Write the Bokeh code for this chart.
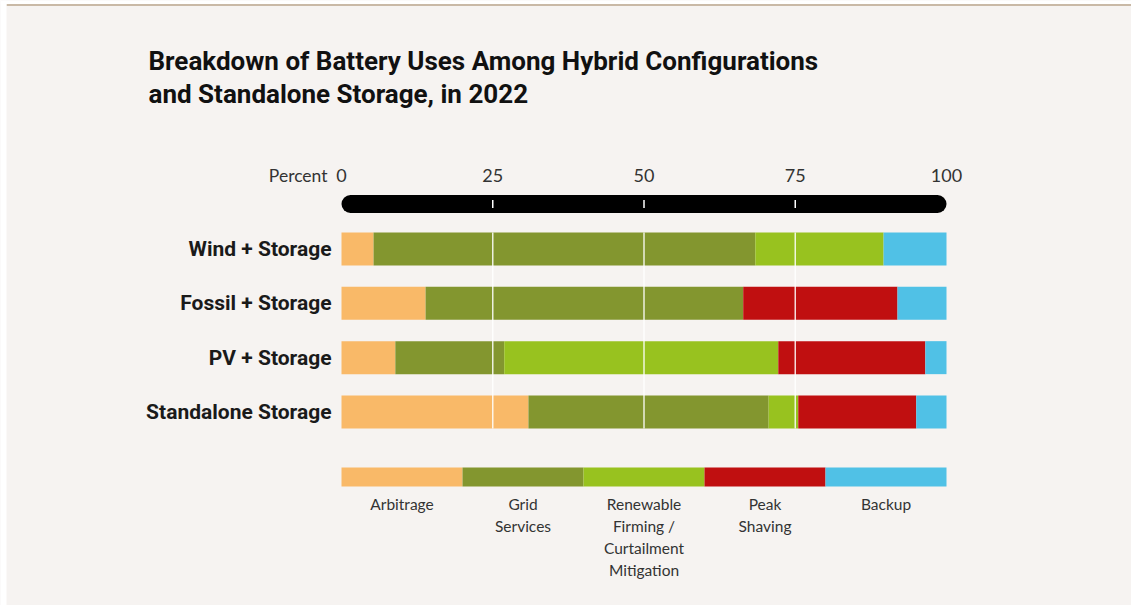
from bokeh.plotting import figure
from bokeh.models import Range1d, ColumnDataSource
from bokeh.core.properties import value
from bokeh.embed import file_html
from bokeh.resources import INLINE

# ---------------- data ----------------
categories = ["Wind + Storage", "Fossil + Storage", "PV + Storage", "Standalone Storage"]
uses = ["Arbitrage", "Grid Services", "Renewable Firming / Curtailment Mitigation", "Peak Shaving", "Backup"]
arbitrage = [5.3, 13.9, 8.9, 30.9]
grid_services = [63.1, 52.5, 18.0, 39.7]
renewable_firming = [21.2, 0.0, 45.3, 4.9]
peak_shaving = [0.0, 25.5, 24.3, 19.5]
backup = [10.4, 8.1, 3.5, 5.0]
legend_labels = [["Arbitrage"], ["Grid", "Services"], ["Renewable", "Firming /", "Curtailment", "Mitigation"],
                 ["Peak", "Shaving"], ["Backup"]]
tick_values = [0, 25, 50, 75, 100]
tick_labels = ["0", "25", "50", "75", "100"]
colors = ["#f9b968", "#83962f", "#98c21f", "#c00f10", "#50c1e6"]
title_lines = ["Breakdown of Battery Uses Among Hybrid Configurations",
               "and Standalone Storage, in 2022"]

# ---------------- layout ----------------
W, H = 1131, 605
OFF = 0                       # page offset of the figure
S = 6.05                      # px per percent
X0 = -(341 - OFF) / S         # data x at left edge of figure
X1 = X0 + W / S
BG = "#f6f3f1"


def px(page_x):
    return X0 + (page_x - OFF) / S


def py(page_y):
    return page_y - OFF


p = figure(width=W, height=H, output_backend="svg", toolbar_location=None,
           x_range=Range1d(X0, X1), y_range=Range1d(H, 0),
           min_border=0, min_border_left=0, min_border_right=0,
           min_border_top=0, min_border_bottom=0)
p.axis.visible = False
p.grid.visible = False
p.outline_line_color = None
p.background_fill_color = BG
p.border_fill_color = BG

# top rule
p.segment(x0=[px(6)], x1=[X1], y0=[py(4.5)], y1=[py(4.5)], line_color="#c9b9a6", line_width=2)
p.quad(left=[X0], right=[px(6)], top=[0], bottom=[H], color="white", line_color=None)
p.quad(left=[X0], right=[X1], top=[0], bottom=[py(3.5)], color="white", line_color=None)

# title
for i, t in enumerate(title_lines):
    p.text(x=[px(148)], y=[py(60.5) + i * 33], text=[t], text_font=value("Roboto"),
           text_font_style="bold", text_font_size="26px", text_color="#111111",
           text_align="left", text_baseline="alphabetic")

# axis bar with rounded ends
cap = 9 / S
p.line(x=[0 + cap, 100 - cap], y=[py(203.5)] * 2, line_color="black", line_width=18, line_cap="round")
inner = [v for v in tick_values if 0 < v < 100]
p.segment(x0=inner, x1=inner, y0=[py(199.5)] * len(inner), y1=[py(207.5)] * len(inner),
          line_color="white", line_width=1.5)
p.text(x=tick_values, y=[py(175)] * len(tick_values), text=tick_labels, text_font=value("Lato"),
       text_font_size="18px", text_color="#333333", text_align="center", text_baseline="middle")
p.text(x=[px(327)], y=[py(175)], text=["Percent"], text_font=value("Lato"),
       text_font_size="17.5px", text_color="#333333", text_align="right", text_baseline="middle")

# stacked bars
row_y = [py(248.5) + i * 54.33 for i in range(len(categories))]
series = [arbitrage, grid_services, renewable_firming, peak_shaving, backup]
src = ColumnDataSource(dict(y=row_y, **{f"s{i}": s for i, s in enumerate(series)}))
p.hbar_stack([f"s{i}" for i in range(len(series))], y="y", height=33, color=colors,
             source=src, line_color=None)

# white gridlines over bars
p.segment(x0=inner, x1=inner, y0=[py(232)] * len(inner), y1=[py(428)] * len(inner),
          line_color="white", line_width=1.5, line_alpha=0.85)

# category labels
p.text(x=[px(331)] * len(categories), y=row_y, text=categories, text_font=value("Roboto"),
       text_font_style="bold", text_font_size="21px", text_color="#1a1a1a",
       text_align="right", text_baseline="middle")

# legend bar
n = len(uses)
lefts = [i * 100 / n for i in range(n)]
rights = [(i + 1) * 100 / n for i in range(n)]
p.hbar(y=[py(476.5)] * n, left=lefts, right=rights, height=19, color=colors, line_color=None)
for i, lines in enumerate(legend_labels):
    cx = (lefts[i] + rights[i]) / 2
    for j, ln in enumerate(lines):
        p.text(x=[cx], y=[py(503) + j * 22.3], text=[ln], text_font=value("Lato"),
               text_font_size="15.5px", text_color="#333333", text_align="center",
               text_baseline="middle")

open("out.html", "w").write(file_html(p, INLINE))
